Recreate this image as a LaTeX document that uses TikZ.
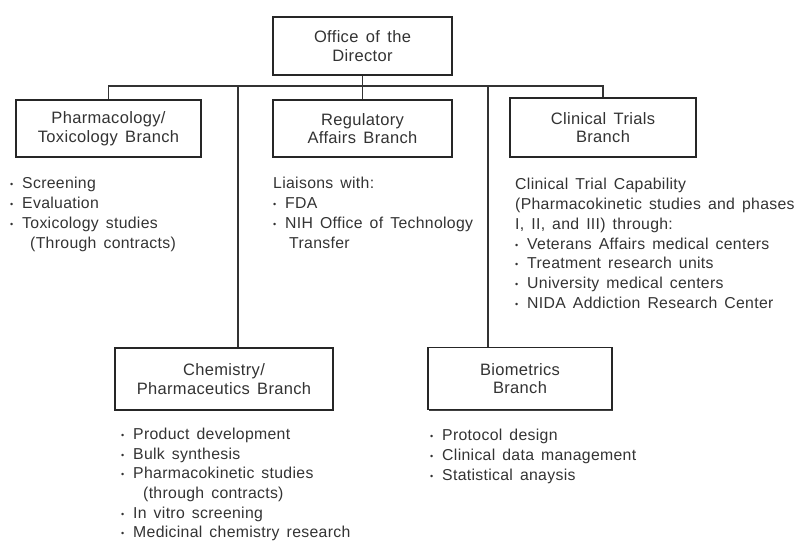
\documentclass[tikz,border=0pt]{standalone}
\usepackage{fontspec}
\setmainfont[LetterSpace=2, WordSpace=1.5]{Liberation Sans}
\usetikzlibrary{positioning,shadows}
\newcommand{\itm}{\makebox[12pt][l]{\raisebox{1pt}{\small\textbullet}}}
\begin{document}
\begin{tikzpicture}[
    x=1pt, y=-1pt,
    box/.style={draw=black!85, line width=1.3pt, fill=white, align=center,
                text=black!80, font=\fontsize{16.5}{18.5}\selectfont,
                drop shadow={shadow xshift=1.3pt, shadow yshift=-1.3pt,
                             fill=black!75, opacity=1}},
    link/.style={draw=black!80, line width=1.2pt},
    list/.style={anchor=north west, align=left, inner sep=0pt,
                 text=black!80, font=\fontsize{15.8}{19.8}\selectfont}
]
\useasboundingbox (0,0) rectangle (803,544);

% ---------- boxes ----------
\node[box, minimum width=179pt, minimum height=58pt] (dir)   at (362.5,46)  {Office of the\\Director};
\node[box, minimum width=185pt, minimum height=57pt] (pharm) at (108.5,128.5) {Pharmacology/\\Toxicology Branch};
\node[box, minimum width=179pt, minimum height=57pt] (reg)   at (362.5,128.5) {Regulatory\\Affairs Branch};
\node[box, minimum width=186pt, minimum height=59pt] (clin)  at (603,127.5)  {Clinical Trials\\Branch};
\node[box, minimum width=218pt, minimum height=62pt] (chem)  at (224,379)   {Chemistry/\\Pharmaceutics Branch};
\node[box, minimum width=184pt, minimum height=62pt] (bio)   at (520,378.5) {Biometrics\\Branch};

% ---------- connectors ----------
\coordinate (bus) at (0,86);
\coordinate (chemtap) at (238,86);
\coordinate (biotap) at (488,86);
\draw[link] (pharm.north) |- (clin.north |- bus) -- (clin.north);
\draw[link] (dir.south) -- (reg.north);
\draw[link] (chemtap) -- (chemtap |- chem.north);
\draw[link] (biotap) -- (biotap |- bio.north);

% ---------- lists ----------
\node[list] (pharmlist) at (10,177) {\itm Screening\\ \itm Evaluation\\ \itm Toxicology studies\\ \hspace*{20pt}(Through contracts)};
\node[list] (reglist) at (273,177) {Liaisons with:\\ \itm FDA\\ \itm NIH Office of Technology\\ \hspace*{16pt}Transfer};
\node[list] (clinlist) at (515,178)
  {Clinical Trial Capability\\ (Pharmacokinetic studies and phases\\ I, II, and III) through:\\
   \itm Veterans Affairs medical centers\\ \itm Treatment research units\\
   \itm University medical centers\\ \itm NIDA Addiction Research Center};
\node[list, font=\fontsize{15.8}{19.6}\selectfont] (chemlist) at (121,428) {\itm Product development\\ \itm Bulk synthesis\\ \itm Pharmacokinetic studies\\
   \hspace*{22pt}(through contracts)\\ \itm In vitro screening\\ \itm Medicinal chemistry research};
\node[list] (biolist) at (430,429) {\itm Protocol design\\ \itm Clinical data management\\ \itm Statistical anaysis};

\end{tikzpicture}
\end{document}
